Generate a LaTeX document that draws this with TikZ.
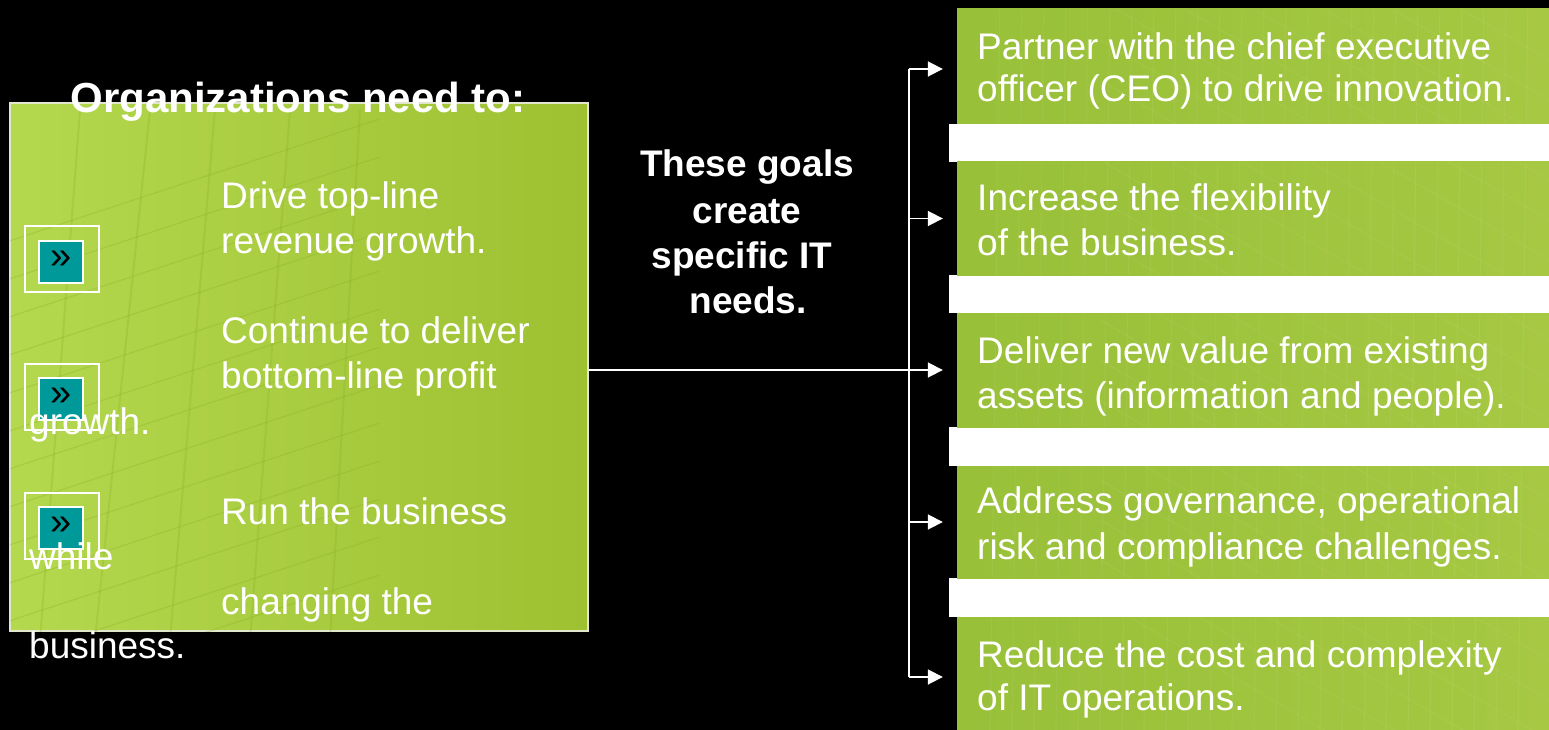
\documentclass[tikz,border=0pt]{standalone}
\usepackage{fontspec}
\setmainfont{Liberation Sans}
\usetikzlibrary{arrows.meta}
\definecolor{leafL}{RGB}{180,216,78}
\definecolor{leafR}{RGB}{158,193,50}
\definecolor{needL}{RGB}{152,192,56}
\definecolor{needR}{RGB}{166,200,66}
\definecolor{facade}{RGB}{130,170,30}
\definecolor{iconteal}{RGB}{0,153,153}
\definecolor{rim}{RGB}{225,230,205}
\begin{document}
\begin{tikzpicture}[x=1pt,y=-1pt,
  body/.style={font=\fontsize{37}{44}\selectfont, text=white, anchor=base west, inner sep=0pt},
  heading/.style={font=\fontsize{42}{50}\selectfont\bfseries, text=white, anchor=base, inner sep=0pt},
  midtext/.style={font=\fontsize{37}{44}\selectfont\bfseries, text=white, anchor=base, inner sep=0pt},
  orgbox/.style={draw=rim, line width=1.5pt, left color=leafL, right color=leafR,
    minimum width=578pt, minimum height=528pt, inner sep=0pt},
  needbox/.style={left color=needL, right color=needR, minimum width=592pt, inner sep=0pt},
  iconframe/.style={draw=white, line width=1.5pt, minimum width=74pt, minimum height=66pt, inner sep=0pt},
  iconbox/.style={draw=white, line width=2.5pt, fill=iconteal, minimum width=44pt, minimum height=42pt,
    inner sep=0pt, text=black, font=\fontsize{38}{38}\selectfont},
  link/.style={draw=white, line width=1.8pt},
  arr/.style={link, -{Triangle[length=15pt,width=15pt,fill=white]}}
]
% black page
\fill[black] (0,0) rectangle (1549,730);
\useasboundingbox (0,0) rectangle (1549,730);

% ---------- left panel ----------
\node[orgbox] (org) at (299,367) {};
\begin{scope}
  \clip (10,103) rectangle (588,631);
  \foreach \k in {0,...,12}
    \draw[facade, opacity=0.25, line width=1.2pt] (0,{700-38*\k}) -- (380,{575-38*\k});
  \foreach \xa/\xb in {40/80, 95/150, 170/215, 250/290, 330/360}
    \draw[facade, opacity=0.22, line width=2pt] (\xa,640) -- (\xb,110);
\end{scope}

\node[heading] (title) at (298,113) {Organizations need to:};

\node[iconframe] (f1) at (62,259) {};
\node[iconbox]   (i1) at (61,262) {\raisebox{0.12em}{»}};
\node[iconframe] (f2) at (62,397) {};
\node[iconbox]   (i2) at (61,399) {\raisebox{0.12em}{»}};
\node[iconframe] (f3) at (62,526) {};
\node[iconbox]   (i3) at (61,528) {\raisebox{0.12em}{»}};

\node[body] (l1) at (221,208) {Drive top-line};
\node[body] (l2) at (221,253) {revenue growth.};
\node[body] (l3) at (221,343) {Continue to deliver};
\node[body] (l4) at (221,388) {bottom-line profit};
\node[body] (l5) at (29,434)  {growth.};
\node[body] (l6) at (221,524) {Run the business};
\node[body] (l7) at (29,569)  {while};
\node[body] (l8) at (221,614) {changing the};
\node[body] (l9) at (29,658)  {business.};

% ---------- middle caption ----------
\node[midtext] (m1) at (747,177) {These goals};
\node[midtext] (m2) at (747,223) {create};
\node[midtext] (m3) at (742,268) {specific IT};
\node[midtext] (m4) at (748,313) {needs.};

% ---------- right column ----------
\fill[white] (949,124) rectangle (1549,162);
\fill[white] (949,275) rectangle (1549,313);
\fill[white] (949,427) rectangle (1549,466);
\fill[white] (949,578) rectangle (1549,617);

\node[needbox, minimum height=115pt] (g1) at (1253,66.5) {};
\node[needbox, minimum height=113pt] (g2) at (1253,218.5) {};
\node[needbox, minimum height=114pt] (g3) at (1253,370) {};
\node[needbox, minimum height=112pt] (g4) at (1253,522) {};
\node[needbox, minimum height=113pt] (g5) at (1253,673.5) {};

\begin{scope}
  \clip (957,9) rectangle (1549,124) (957,162) rectangle (1549,275)
        (957,313) rectangle (1549,427) (957,466) rectangle (1549,578)
        (957,617) rectangle (1549,730);
  \foreach \k in {0,...,24}
    \draw[white, opacity=0.06, line width=1.2pt] ({1000+22*\k},0) -- ({990+22*\k},730);
  \foreach \k in {0,...,20}
    \draw[white, opacity=0.05, line width=1.2pt] (1100,{40*\k-200}) -- (1549,{40*\k+60});
\end{scope}

\node[body] (r1a) at (977,60)  {Partner with the chief executive};
\node[body] (r1b) at (977,102) {officer (CEO) to drive innovation.};
\node[body] (r2a) at (977,211) {Increase the flexibility};
\node[body] (r2b) at (977,255) {of the business.};
\node[body] (r3a) at (977,363) {Deliver new value from existing};
\node[body] (r3b) at (977,408) {assets (information and people).};
\node[body] (r4a) at (977,513) {Address governance, operational};
\node[body] (r4b) at (977,559) {risk and compliance challenges.};
\node[body] (r5a) at (977,667) {Reduce the cost and complexity};
\node[body] (r5b) at (977,710) {of IT operations.};

% ---------- connectors ----------
\coordinate (spinetop) at (909,69);
\coordinate (spinebot) at (909,677);
\draw[link] (spinetop) -- (spinebot);
\draw[arr] (spinetop) -- ([xshift=-14pt]g1.west |- spinetop);
\draw[arr] (g2.west -| spinetop) -- ([xshift=-14pt]g2.west);
\draw[arr] (org.east |- g3.west) -- ([xshift=-14pt]g3.west);
\draw[arr] (g4.west -| spinetop) -- ([xshift=-14pt]g4.west);
\draw[arr] (spinebot) -- ([xshift=-14pt]g5.west |- spinebot);
\end{tikzpicture}
\end{document}
